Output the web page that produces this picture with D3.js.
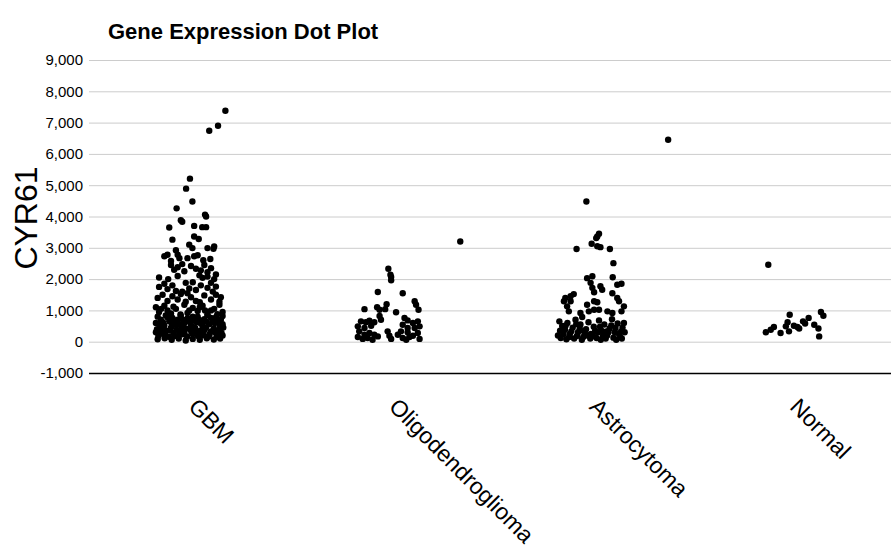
<!DOCTYPE html>
<html>
<head>
<meta charset="utf-8">
<script src="https://cdn.jsdelivr.net/npm/d3@7"></script>
<style>
  body { margin: 0; background: #ffffff; }
  svg { display: block; font-family: "Liberation Sans", Arial, Helvetica, sans-serif; }
</style>
</head>
<body>
<svg></svg>
<script>
// categories on the x axis
var categories = ["GBM", "Oligodendroglioma", "Astrocytoma", "Normal"];
var yTicks = [-1000, 0, 1000, 2000, 3000, 4000, 5000, 6000, 7000, 8000, 9000];

// each point: [jitter (-1..1 of the spread), CYR61 value]
var gbm = [
  [1.03,7380],[0.82,6900],[0.57,6740],
  [0.02,5210],[-0.09,4890],[0.09,4480],[-0.36,4260],[0.45,4060],[0.48,4000],
  [-0.2,3830],[-0.24,3880],[-0.57,3650],[0.14,3700],[0.37,3660],[0.48,3660],
  [-0.48,3260],[0.14,3360],[0.27,3280],[0,3100],[0.09,2990],[0.52,2990],[0.71,3040],[0.69,2970],[-0.38,2920],
  [-0.71,2730],[-0.62,2780],[-0.33,2780],[-0.28,2670],[-0.05,2670],[0.14,2730],[0.24,2760],[0.4,2600],[-0.52,2580],[0.6,2640],
  [-0.52,2450],[-0.43,2300],[-0.33,2380],[-0.14,2250],[0.05,2420],[0.19,2330],[0.33,2280],[0.43,2450],[0.52,2220],[-0.2,2480],[0.62,2350],
  [-0.86,2050],[-0.33,2100],[0.29,2120],[0.38,2040],[0.52,2080],[0.71,2000],[0.76,2150],[-0.6,2000],
  [-0.86,1750],[-0.71,1850],[-0.62,1680],[-0.48,1800],[-0.38,1620],[-0.1,1880],[0,1700],[0.19,1650],[0.33,1800],[0.52,1720],[0.62,1880],[0.67,1600],[0.76,1760],[-0.2,1600],[0.1,1900],
  [-0.9,1400],[-0.76,1500],[-0.62,1300],[-0.48,1450],[-0.33,1350],[-0.24,1520],[-0.1,1280],[0.05,1420],[0.19,1300],[0.43,1480],[0.62,1350],[0.76,1500],[0.86,1280],[0.9,1420],[-0.05,1550],[0.3,1260],
  [-0.95,1100],[-0.86,950],[-0.71,1150],[-0.52,900],[-0.38,1050],[-0.14,1180],[-0.05,920],[0.1,1080],[0.24,980],[0.38,1150],[0.52,880],[0.71,1050],[0.86,1180],[0.95,950],[-0.62,1000],[0.62,1000],[-0.25,870],[0.45,1000],
  [-0.8,1050],[-0.45,1120],[0.0,1000],[0.3,1100],[0.8,880],
  [-0.95,600],[-0.9,800],[-0.81,700],[-0.71,520],[-0.67,840],[-0.57,650],[-0.48,760],[-0.4,540],[-0.33,700],[-0.24,820],[-0.14,600],[-0.05,740],[0.05,520],[0.14,680],[0.24,800],[0.33,580],[0.43,720],[0.52,840],[0.57,560],[0.67,680],[0.76,780],[0.86,540],[0.9,700],[0.95,820],[-0.5,600],[0.2,620],
  [-0.85,560],[-0.75,620],[-0.62,780],[-0.44,680],[-0.28,560],[-0.18,700],[0.0,640],[0.1,800],[0.28,700],[0.38,500],[0.48,640],[0.62,760],[0.72,600],[0.82,660],[0.95,560],
  [-0.95,300],[-0.88,180],[-0.8,420],[-0.74,250],[-0.66,350],[-0.58,160],[-0.52,450],[-0.45,280],[-0.36,380],[-0.3,200],[-0.22,460],[-0.14,300],[-0.06,170],[0.02,400],[0.1,250],[0.17,440],[0.25,180],[0.32,350],[0.4,260],[0.48,450],[0.55,170],[0.62,330],[0.7,420],[0.78,220],[0.85,380],[0.92,280],[0.97,450],[-0.1,420],
  [-0.92,400],[-0.78,320],[-0.68,200],[-0.55,360],[-0.42,180],[-0.26,320],[-0.18,240],[0.06,320],[0.2,330],[0.36,200],[0.44,380],[0.58,240],[0.74,300],[0.82,160],[0.95,200],
  [-0.9,80],[-0.7,110],[-0.5,60],[-0.3,100],[-0.1,40],[0.1,90],[0.3,60],[0.5,110],[0.7,70],[0.88,100]
];

var oligo = [
  [2.01,3200],
  [-0.04,2330],[0.02,2140],[0.04,2070],[0.04,1960],[-0.34,1590],[0.37,1550],
  [0.71,1290],[0.75,1180],[0.82,1020],[-0.72,1040],[-0.36,1100],[-0.29,1020],[-0.09,1200],[-0.13,1040],[0.18,940],
  [0.42,760],[0.51,680],[-0.29,820],[-0.25,700],[-0.44,620],[-0.82,650],[-0.68,620],[-0.58,670],
  [-0.91,490],[-0.72,440],[-0.53,510],[0.66,600],[0.8,650],[0.85,490],[0.37,540],[0.51,440],[0.71,440],
  [-0.87,330],[-0.72,220],[-0.58,280],[-0.44,220],[-0.34,170],[-0.91,150],[-0.77,90],[-0.63,120],[-0.49,60],
  [-0.06,330],[-0.01,190],[0.04,90],[0.23,220],[0.32,330],[0.37,120],[0.51,300],[0.56,150],[0.66,190],[0.8,280],[0.85,90],[0.47,60]
];

var astro = [
  [2.22,6450],[-0.11,4480],
  [0.25,3450],[0.2,3360],[0.17,3310],[0.04,3130],[0.2,3050],[0.29,3020],[-0.39,2960],[0.56,2960],[0.66,2510],
  [-0.09,2030],[0.06,2090],[0.01,1880],[0.06,1720],[0.11,1580],[0.29,1770],[0.34,1660],[0.64,2060],[0.77,1820],[0.89,1850],[0.63,1550],
  [-0.47,1520],[-0.56,1450],[-0.71,1400],[-0.75,1290],[-0.56,1290],[-0.66,1130],[0.77,1400],[0.82,1290],[0.11,1290],[0.2,1260],
  [-0.09,1180],[0.11,1020],[0.25,1020],[-0.04,970],[0.96,1130],[0.89,970],[-0.61,970],[-0.28,920],[-0.23,790],[0.49,970],[0.63,920],
  [-0.88,650],[-0.8,500],[-0.72,380],[-0.65,600],[-0.58,250],[-0.5,450],[-0.42,700],[-0.35,300],[-0.28,550],[-0.2,150],[-0.12,400],[-0.05,620],[0.02,250],
  [0.1,480],[0.18,120],[0.25,680],[0.32,350],[0.4,550],[0.48,200],[0.55,420],[0.62,720],[0.7,300],[0.78,580],[0.85,150],[0.92,450],[0.98,300],
  [-0.92,200],[-0.84,120],[-0.76,250],[-0.68,80],[-0.6,150],[-0.46,100],[-0.38,180],[-0.24,60],[-0.15,250],[0.0,100],[0.08,180],[0.22,300],
  [0.3,60],[0.44,100],[0.52,300],[0.66,130],[0.74,60],[0.82,250],[0.9,100],[0.96,600],[-0.3,420],[0.36,180],
  [-0.86,350],[-0.7,520],[-0.54,330],[-0.4,560],[-0.18,330],[-0.08,200],[0.14,350],[0.28,480],[0.46,330],[0.6,520],[0.72,440],[0.88,330]
];

var normal = [
  [-0.64,2460],[-0.03,860],[0.86,950],[0.93,830],[0.51,760],[0.35,650],[0.41,580],
  [-0.09,620],[-0.14,490],[-0.05,330],[0.09,510],[0.19,470],[0.24,420],
  [-0.48,470],[-0.57,380],[-0.71,300],[-0.29,280],[0.67,540],[0.79,420],[0.81,170]
];

var series = [gbm, oligo, astro, normal];

var width = 891,
    height = 552,
    plotLeft = 89,
    plotRight = 891,
    plotTop = 60,
    plotBottom = 373;

var svg = d3.select("svg")
  .attr("width", width)
  .attr("height", height);

var x = d3.scaleBand().domain(categories).range([plotLeft, plotRight]);
var y = d3.scaleLinear().domain([-1000, 9000]).range([plotBottom, plotTop]);
var spread = x.bandwidth() * 0.175;

var comma = d3.format(",");
var fmt = function (d) { return comma(d).replace("\u2212", "-"); };

// title
svg.append("text")
  .attr("x", 108)
  .attr("y", 39)
  .style("font-size", "22px")
  .style("font-weight", "bold")
  .text("Gene Expression Dot Plot");

// y axis with gridlines
var yAxis = svg.append("g")
  .attr("transform", "translate(" + plotLeft + ",0)")
  .call(d3.axisLeft(y).tickValues(yTicks).tickFormat(fmt).tickSize(-(plotRight - plotLeft)).tickPadding(6));

yAxis.select(".domain").remove();
yAxis.selectAll(".tick line")
  .attr("stroke", function (d) { return d === -1000 ? "#000" : "#cccccc"; })
  .attr("stroke-width", function (d) { return d === -1000 ? 1.6 : 1; });
yAxis.selectAll(".tick text")
  .style("font-size", "15px")
  .style("font-family", "\"Liberation Sans\", Arial, sans-serif")
  .attr("fill", "#000");

// y label
svg.append("text")
  .attr("transform", "translate(37,218) rotate(-90)")
  .attr("text-anchor", "middle")
  .style("font-size", "32px")
  .text("CYR61");

// x labels
svg.selectAll(".xlab").data(categories)
  .enter().append("text")
    .attr("class", "xlab")
    .attr("transform", function (d) {
      return "translate(" + (x(d) + x.bandwidth() / 2 - 2) + ",408) rotate(45)";
    })
    .style("font-size", "23px")
    .text(function (d) { return d; });

// dots
series.forEach(function (pts, i) {
  var cx = x(categories[i]) + x.bandwidth() / 2;
  svg.append("g").selectAll("circle").data(pts)
    .enter().append("circle")
      .attr("cx", function (d) { return cx + d[0] * spread; })
      .attr("cy", function (d) { return y(d[1]); })
      .attr("r", 3.2)
      .style("fill", "#000");
});
</script>
</body>
</html>
